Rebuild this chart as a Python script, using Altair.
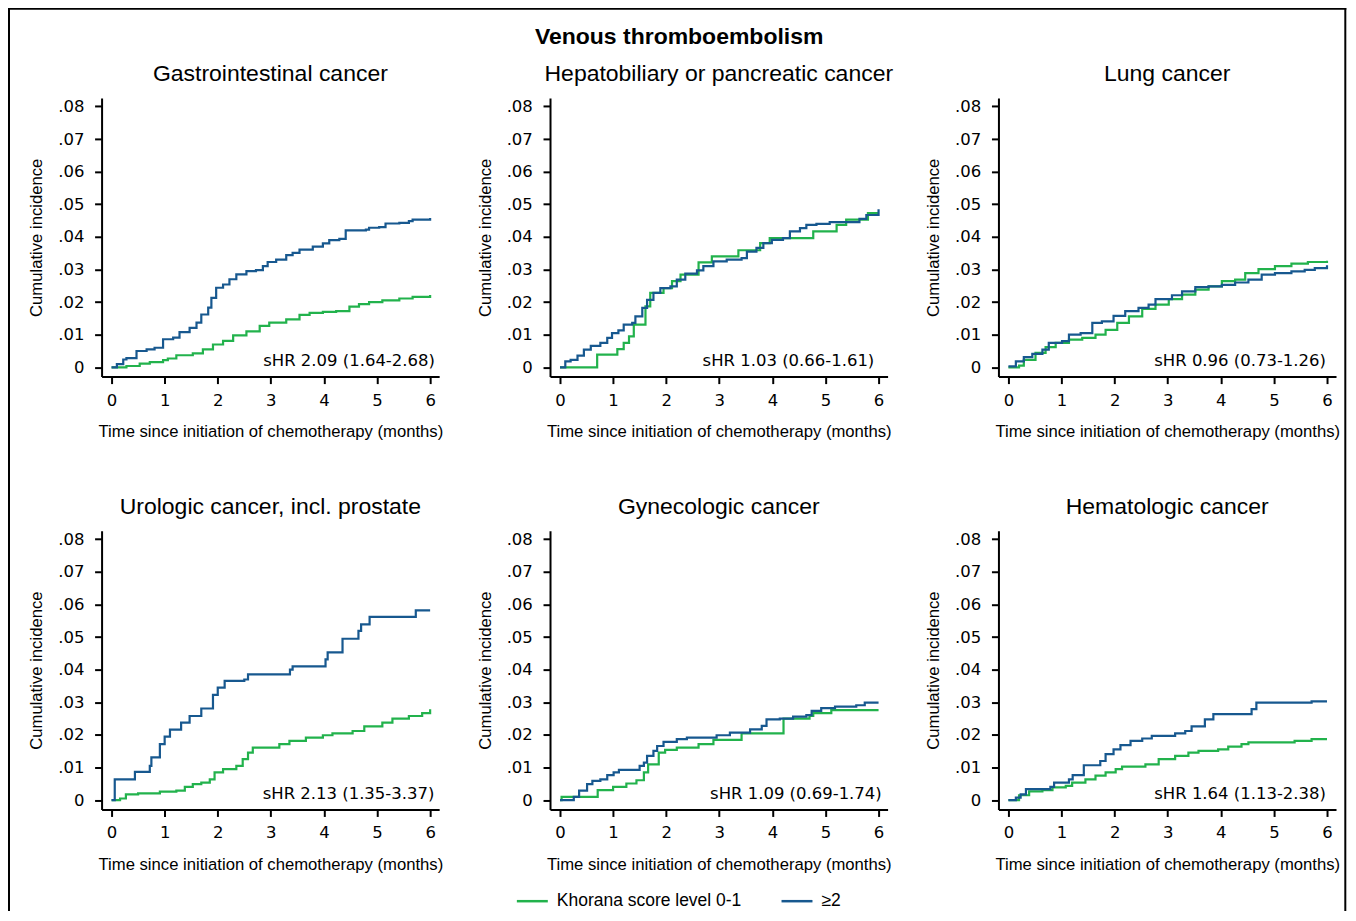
import altair as alt
import pandas as pd

# ---------------- data ----------------
GROUPS = ["Khorana score level 0-1", "≥2"]
GREEN = "#22B24C"
BLUE = "#17588F"

panel_names = ["Gastrointestinal cancer", "Hepatobiliary or pancreatic cancer", "Lung cancer",
               "Urologic cancer, incl. prostate", "Gynecologic cancer", "Hematologic cancer"]
shr_labels = ["sHR 2.09 (1.64-2.68)", "sHR 1.03 (0.66-1.61)", "sHR 0.96 (0.73-1.26)",
              "sHR 2.13 (1.35-3.37)", "sHR 1.09 (0.69-1.74)", "sHR 1.64 (1.13-2.38)"]
shr_x = [6.09, 5.92, 5.98, 6.08, 6.06, 5.98]
shr_y = [0.0019, 0.0019, 0.0019, 0.0019, 0.0019, 0.0019]

x_ticks = [0, 1, 2, 3, 4, 5, 6]
y_ticks = [0, 0.01, 0.02, 0.03, 0.04, 0.05, 0.06, 0.07, 0.08]

# Gastrointestinal
gi_lo_t = [0, 0.28, 0.53, 0.72, 0.97, 1.06, 1.22, 1.53, 1.72, 1.91, 2.10, 2.29, 2.54, 2.79, 2.97, 3.29, 3.54, 3.73, 3.98, 4.23, 4.48, 4.66, 4.85, 5.10, 5.42, 5.67, 6.0]
gi_lo_ci = [0, 0.0004, 0.0011, 0.0016, 0.0022, 0.0027, 0.0037, 0.0043, 0.0055, 0.0070, 0.0081, 0.0098, 0.0110, 0.0127, 0.0137, 0.0147, 0.0161, 0.0167, 0.0170, 0.0172, 0.0186, 0.0194, 0.0200, 0.0205, 0.0211, 0.0216, 0.0222]
gi_hi_t = [0, 0.10, 0.22, 0.28, 0.47, 0.66, 0.81, 0.97, 1.16, 1.28, 1.47, 1.60, 1.69, 1.82, 1.88, 1.97, 2.10, 2.22, 2.35, 2.54, 2.72, 2.85, 2.94, 3.10, 3.29, 3.41, 3.54, 3.79, 3.98, 4.10, 4.29, 4.41, 4.79, 4.85, 5.04, 5.16, 5.42, 5.60, 5.67, 6.0]
gi_hi_ci = [0, 0.0010, 0.0024, 0.0028, 0.0050, 0.0055, 0.0060, 0.0086, 0.0091, 0.0108, 0.0121, 0.0137, 0.0162, 0.0183, 0.0213, 0.0244, 0.0254, 0.0270, 0.0285, 0.0295, 0.0298, 0.0310, 0.0323, 0.0330, 0.0344, 0.0351, 0.0361, 0.0370, 0.0380, 0.0390, 0.0394, 0.0420, 0.0422, 0.0428, 0.0430, 0.0441, 0.0443, 0.0448, 0.0453, 0.0458]

# Hepatobiliary or pancreatic
hp_lo_t = [0, 0.70, 1.08, 1.20, 1.30, 1.39, 1.61, 1.70, 1.95, 2.11, 2.27, 2.61, 2.86, 3.36, 3.77, 3.95, 4.77, 5.21, 5.39, 5.80, 6.0]
hp_lo_ci = [0, 0.0039, 0.0056, 0.0075, 0.0095, 0.0131, 0.0187, 0.0228, 0.0243, 0.0264, 0.0284, 0.0322, 0.0340, 0.0359, 0.0381, 0.0396, 0.0417, 0.0437, 0.0453, 0.0473, 0.0473]
hp_hi_t = [0, 0.10, 0.20, 0.33, 0.45, 0.58, 0.76, 0.89, 0.98, 1.10, 1.20, 1.36, 1.42, 1.55, 1.64, 1.76, 1.89, 2.08, 2.20, 2.36, 2.58, 2.70, 2.89, 3.14, 3.42, 3.52, 3.70, 3.83, 3.99, 4.20, 4.33, 4.52, 4.64, 4.83, 5.08, 5.39, 5.64, 5.77, 6.0]
hp_hi_ci = [0, 0.0018, 0.0023, 0.0036, 0.0054, 0.0066, 0.0075, 0.0090, 0.0105, 0.0113, 0.0131, 0.0136, 0.0156, 0.0182, 0.0207, 0.0228, 0.0243, 0.0248, 0.0269, 0.0287, 0.0297, 0.0310, 0.0325, 0.0330, 0.0335, 0.0355, 0.0366, 0.0381, 0.0391, 0.0396, 0.0417, 0.0427, 0.0437, 0.0440, 0.0445, 0.0445, 0.0455, 0.0467, 0.0485]

# Lung
lu_lo_t = [0, 0.20, 0.29, 0.51, 0.70, 0.89, 1.14, 1.39, 1.64, 1.83, 2.05, 2.27, 2.52, 2.77, 3.02, 3.27, 3.52, 3.77, 4.02, 4.27, 4.46, 4.71, 5.02, 5.33, 5.64, 6.0]
lu_lo_ci = [0, 0.0005, 0.0023, 0.0044, 0.0062, 0.0075, 0.0085, 0.0090, 0.0100, 0.0115, 0.0136, 0.0156, 0.0179, 0.0192, 0.0209, 0.0223, 0.0238, 0.0248, 0.0264, 0.0269, 0.0289, 0.0301, 0.0310, 0.0318, 0.0323, 0.0327]
lu_hi_t = [0, 0.14, 0.29, 0.45, 0.64, 0.76, 1.01, 1.14, 1.36, 1.58, 1.76, 1.98, 2.20, 2.45, 2.64, 2.77, 3.08, 3.27, 3.52, 3.77, 4.02, 4.27, 4.52, 4.77, 5.02, 5.33, 5.58, 5.77, 6.0]
lu_hi_ci = [0.0003, 0.0018, 0.0031, 0.0041, 0.0054, 0.0075, 0.0080, 0.0100, 0.0105, 0.0136, 0.0141, 0.0158, 0.0172, 0.0182, 0.0192, 0.0209, 0.0221, 0.0233, 0.0246, 0.0248, 0.0253, 0.0260, 0.0269, 0.0284, 0.0289, 0.0294, 0.0299, 0.0304, 0.0313]

# Urologic
ur_lo_t = [0, 0.16, 0.27, 0.50, 0.91, 1.22, 1.38, 1.53, 1.69, 1.85, 1.94, 2.10, 2.35, 2.47, 2.57, 2.66, 3.16, 3.35, 3.66, 3.98, 4.16, 4.54, 4.76, 5.10, 5.29, 5.60, 5.85, 6.0]
ur_lo_ci = [0, 0.0005, 0.0018, 0.0021, 0.0026, 0.0029, 0.0041, 0.0049, 0.0054, 0.0064, 0.0085, 0.0095, 0.0105, 0.0126, 0.0146, 0.0161, 0.0172, 0.0182, 0.0192, 0.0199, 0.0205, 0.0212, 0.0226, 0.0238, 0.0250, 0.0258, 0.0267, 0.0279]
ur_hi_t = [0, 0.06, 0.44, 0.72, 0.75, 0.91, 1.00, 1.10, 1.31, 1.47, 1.69, 1.91, 2.00, 2.13, 2.50, 2.57, 3.36, 3.41, 4.03, 4.07, 4.35, 4.65, 4.70, 4.86, 5.73, 6.0]
ur_hi_ci = [0, 0.0064, 0.0087, 0.0105, 0.0131, 0.0172, 0.0195, 0.0216, 0.0238, 0.0258, 0.0281, 0.0323, 0.0345, 0.0366, 0.0370, 0.0386, 0.0400, 0.0410, 0.0432, 0.0453, 0.0495, 0.0519, 0.0539, 0.0562, 0.0582, 0.0582]

# Gynecologic
gy_lo_t = [0, 0.03, 0.71, 1.00, 1.25, 1.44, 1.58, 1.66, 1.86, 1.98, 2.20, 2.61, 2.89, 3.42, 4.21, 4.70, 4.77, 5.11, 6.0]
gy_lo_ci = [0, 0.0010, 0.0031, 0.0041, 0.0051, 0.0061, 0.0085, 0.0110, 0.0146, 0.0154, 0.0161, 0.0172, 0.0185, 0.0205, 0.0250, 0.0258, 0.0267, 0.0276, 0.0276]
gy_hi_t = [0, 0.26, 0.36, 0.51, 0.61, 0.76, 0.89, 1.01, 1.11, 1.50, 1.58, 1.64, 1.76, 1.83, 1.95, 2.20, 2.39, 2.95, 3.20, 3.58, 3.80, 3.89, 4.14, 4.39, 4.64, 4.74, 4.92, 5.18, 5.58, 5.74, 6.0]
gy_hi_ci = [0, 0.0010, 0.0029, 0.0049, 0.0059, 0.0064, 0.0077, 0.0085, 0.0093, 0.0105, 0.0115, 0.0136, 0.0151, 0.0166, 0.0179, 0.0187, 0.0192, 0.0199, 0.0207, 0.0217, 0.0228, 0.0248, 0.0250, 0.0256, 0.0261, 0.0274, 0.0282, 0.0287, 0.0291, 0.0299, 0.0299]

# Hematologic
he_lo_t = [0, 0.20, 0.39, 0.64, 0.83, 1.08, 1.20, 1.45, 1.64, 1.83, 2.02, 2.14, 2.58, 2.83, 3.14, 3.39, 3.58, 3.95, 4.14, 4.39, 4.52, 5.39, 5.71, 6.0]
he_lo_ci = [0, 0.0015, 0.0027, 0.0031, 0.0039, 0.0044, 0.0054, 0.0064, 0.0075, 0.0085, 0.0095, 0.0103, 0.0110, 0.0126, 0.0136, 0.0146, 0.0151, 0.0156, 0.0164, 0.0172, 0.0177, 0.0182, 0.0187, 0.0187]
he_hi_t = [0, 0.14, 0.23, 0.33, 0.79, 0.86, 1.14, 1.21, 1.42, 1.73, 1.83, 1.98, 2.11, 2.30, 2.52, 2.70, 3.14, 3.33, 3.45, 3.70, 3.86, 4.58, 4.67, 5.71, 6.0]
he_hi_ci = [0, 0.0008, 0.0018, 0.0034, 0.0041, 0.0054, 0.0064, 0.0077, 0.0107, 0.0120, 0.0141, 0.0156, 0.0169, 0.0182, 0.0189, 0.0197, 0.0205, 0.0212, 0.0226, 0.0248, 0.0264, 0.0279, 0.0299, 0.0303, 0.0303]

series = [
    (gi_lo_t, gi_lo_ci, gi_hi_t, gi_hi_ci),
    (hp_lo_t, hp_lo_ci, hp_hi_t, hp_hi_ci),
    (lu_lo_t, lu_lo_ci, lu_hi_t, lu_hi_ci),
    (ur_lo_t, ur_lo_ci, ur_hi_t, ur_hi_ci),
    (gy_lo_t, gy_lo_ci, gy_hi_t, gy_hi_ci),
    (he_lo_t, he_lo_ci, he_hi_t, he_hi_ci),
]

# ---------------- layout / style ----------------
W, H = 338, 279
XDOM = [-0.188, 6.17]
YDOM = [-0.00285, 0.0826]
SANS = "Liberation Sans, Arial, Helvetica, sans-serif"
NUM = "DejaVu Sans, Verdana, sans-serif"
XTITLE = "Time since initiation of chemotherapy (months)"
YTITLE = "Cumulative incidence"


def make_panel(i):
    lo_t, lo_ci, hi_t, hi_ci = series[i]
    df = pd.concat([
        pd.DataFrame({"t": lo_t, "ci": lo_ci, "group": GROUPS[0]}),
        pd.DataFrame({"t": hi_t, "ci": hi_ci, "group": GROUPS[1]}),
    ], ignore_index=True)

    x = alt.X("t:Q", scale=alt.Scale(domain=XDOM, nice=False, zero=False),
              axis=alt.Axis(values=x_ticks, tickCount=20, format="d", title=XTITLE, labelFlush=False,
                            labelOverlap=False, labelPadding=8.5,
                            titleY=60.4, titleBaseline="alphabetic"))
    y = alt.Y("ci:Q", scale=alt.Scale(domain=YDOM, nice=False, zero=False),
              axis=alt.Axis(values=y_ticks, tickCount=20, title=YTITLE, labelFlush=False, labelOverlap=False,
                            labelExpr="datum.value == 0 ? '0' : replace(format(datum.value, '.2f'), '0.', '.')",
                            labelPadding=10.7, titleX=-60, titleBaseline="alphabetic"))

    lines = alt.Chart(df).mark_line(interpolate="step-after", strokeWidth=2.2).encode(
        x=x, y=y,
        color=alt.Color("group:N", sort=GROUPS,
                        scale=alt.Scale(domain=GROUPS, range=[GREEN, BLUE]),
                        legend=alt.Legend(title=None, orient="none", legendX=414.3, legendY=787,
                                          direction="horizontal", symbolType="stroke",
                                          symbolSize=961, symbolStrokeWidth=2.5,
                                          labelFont=SANS, labelFontSize=17.5, labelColor="black",
                                          labelLimit=0, labelOffset=7.5, columnPadding=34, padding=0)),
    )

    ann = alt.Chart(pd.DataFrame({"t": [shr_x[i]], "ci": [shr_y[i]], "label": [shr_labels[i]]})).mark_text(
        align="right", baseline="middle", font=NUM, fontSize=16.5, color="black"
    ).encode(x="t:Q", y="ci:Q", text="label:N")

    ttl = alt.Chart(pd.DataFrame({"label": [panel_names[i]]})).mark_text(
        align="center", baseline="alphabetic", font=SANS, fontSize=23, color="black"
    ).encode(text="label:N", x=alt.value(W / 2), y=alt.value(-16.5))

    layers = [lines, ann, ttl]
    if i == 0:
        one = pd.DataFrame({"k": [0]})
        left = alt.Chart(one).mark_rule(stroke="black", strokeWidth=2).encode(
            x=alt.value(-92.7), y=alt.value(-90.3), y2=alt.value(830))
        top = alt.Chart(one).mark_rule(stroke="black", strokeWidth=2).encode(
            x=alt.value(-93.7), x2=alt.value(1246.3), y=alt.value(-89.3))
        right = alt.Chart(one).mark_rule(stroke="black", strokeWidth=2).encode(
            x=alt.value(1245.3), y=alt.value(-90.3), y2=alt.value(830))
        main = alt.Chart(pd.DataFrame({"label": ["Venous thromboembolism"]})).mark_text(
            align="center", baseline="alphabetic", font=SANS, fontSize=23, fontWeight="bold", color="black"
        ).encode(text="label:N", x=alt.value(578.3), y=alt.value(-54.5))
        layers = [left, top, right, main] + layers
    return alt.layer(*layers).properties(width=W, height=H)


panels = [make_panel(i) for i in range(6)]

chart = alt.concat(
    *panels, columns=3, spacing={"row": 154.4, "column": 111}, bounds="flush"
).properties(
    padding={"left": -1.3, "top": -2.5, "right": 0, "bottom": -17.8},
    autosize=alt.AutoSizeParams(type="pad"), background="white"
).configure_view(
    strokeWidth=0
).configure_axis(
    grid=False,
    domainColor="black", domainWidth=2,
    tickColor="black", tickWidth=2, tickSize=7,
    labelFont=NUM, labelFontSize=16.5, labelColor="black",
    titleFont=SANS, titleFontSize=16.7, titleFontWeight="normal", titleColor="black",
)

chart.save("out.html", embed_options={"renderer": "svg", "actions": False})
